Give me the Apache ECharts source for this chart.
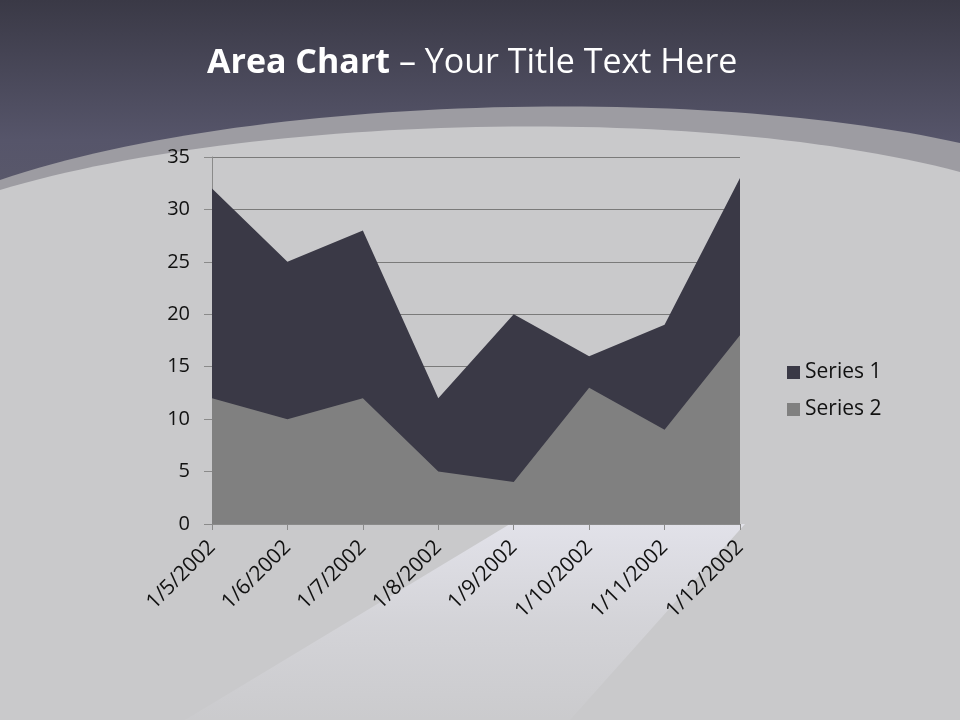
<!DOCTYPE html>
<html>
<head>
<meta charset="utf-8">
<script src="https://cdn.jsdelivr.net/npm/echarts@6/dist/echarts.min.js"></script>
<style>
html,body{margin:0;padding:0;background:#c9c9cb;}
#chart{width:960px;height:720px;}
</style>
</head>
<body>
<div id="chart"></div>
<script>
var categories=['1/5/2002','1/6/2002','1/7/2002','1/8/2002','1/9/2002','1/10/2002','1/11/2002','1/12/2002'];
var series1=[32,25,28,12,20,16,19,33];
var series2=[12,10,12,5,4,13,9,18];
var yTicks={min:0,max:35,interval:5};

var chart=echarts.init(document.getElementById('chart'));
var font='"Open Sans", sans-serif';

// background curve: cubic bezier sampled to a polygon, closed to the bottom
function curveShape(p0,p1,p2,p3){
    var pts=[];
    for(var i=0;i<=60;i++){
        var t=i/60,u=1-t;
        pts.push([u*u*u*p0[0]+3*u*u*t*p1[0]+3*u*t*t*p2[0]+t*t*t*p3[0],
                  u*u*u*p0[1]+3*u*u*t*p1[1]+3*u*t*t*p2[1]+t*t*t*p3[1]]);
    }
    pts.push([960,720]);pts.push([0,720]);
    return pts;
}

var option={
    backgroundColor:'#c9c9cb',
    animation:false,
    graphic:[
        {type:'rect',z:-10,shape:{x:0,y:0,width:960,height:720},
         style:{fill:'#c9c9cb'}},
        {type:'rect',z:-9,shape:{x:0,y:0,width:960,height:200},
         style:{fill:new echarts.graphic.LinearGradient(0,0,0,1,[
            {offset:0,color:'#3a3946'},{offset:0.7,color:'#56556a'},{offset:1,color:'#5a596b'}])}},
        {type:'polygon',z:-8,shape:{points:curveShape([0,180],[250,95],[700,85],[960,143])},
         style:{fill:'#9d9ca2'}},
        {type:'polygon',z:-7,shape:{points:curveShape([0,190],[250,115],[700,103],[960,172])},
         style:{fill:'#c9c9cb'}},
        {type:'polygon',z:-6,shape:{points:[[510,524],[745,524],[570,720],[185,720]]},
         style:{fill:new echarts.graphic.LinearGradient(0,0,0,1,[
            {offset:0,color:'rgba(236,236,246,0.7)'},{offset:0.5,color:'rgba(236,236,246,0.3)'},
            {offset:1,color:'rgba(236,236,246,0.05)'}])}},
        {type:'text',left:207,top:46,
         style:{text:'{b|Area Chart} – Your Title Text Here',
            fill:'#ffffff',font:'34px '+font,
            rich:{b:{fontWeight:'bold',fontSize:34,fontFamily:font,fill:'#ffffff'}}}}
    ],
    legend:{
        orient:'vertical',
        left:782,top:357,
        itemWidth:13,itemHeight:13,itemGap:16,
        icon:'rect',
        textStyle:{color:'#111',fontSize:21,fontFamily:font},
        data:['Series 1','Series 2']
    },
    grid:{left:212,right:220,top:157,bottom:196},
    xAxis:{
        type:'category',
        data:categories,
        boundaryGap:false,
        axisLine:{lineStyle:{color:'#8a8a8a'}},
        axisTick:{show:true,length:6,lineStyle:{color:'#8a8a8a'}},
        axisLabel:{rotate:45,color:'#111',fontSize:21,fontFamily:font,margin:20}
    },
    yAxis:{
        type:'value',
        min:yTicks.min,max:yTicks.max,interval:yTicks.interval,
        axisLine:{show:true,lineStyle:{color:'#8a8a8a'}},
        axisTick:{show:true,length:8,lineStyle:{color:'#8a8a8a'}},
        splitLine:{lineStyle:{color:'#7a7a7a'}},
        axisLabel:{color:'#111',fontSize:20,fontFamily:font,margin:22}
    },
    series:[
        {name:'Series 1',type:'line',data:series1,showSymbol:false,
         itemStyle:{color:'#3a3946'},lineStyle:{width:0},areaStyle:{color:'#3a3946',opacity:1}},
        {name:'Series 2',type:'line',data:series2,showSymbol:false,
         itemStyle:{color:'#808080'},lineStyle:{width:0},areaStyle:{color:'#808080',opacity:1}}
    ]
};
chart.setOption(option);
</script>
</body>
</html>
